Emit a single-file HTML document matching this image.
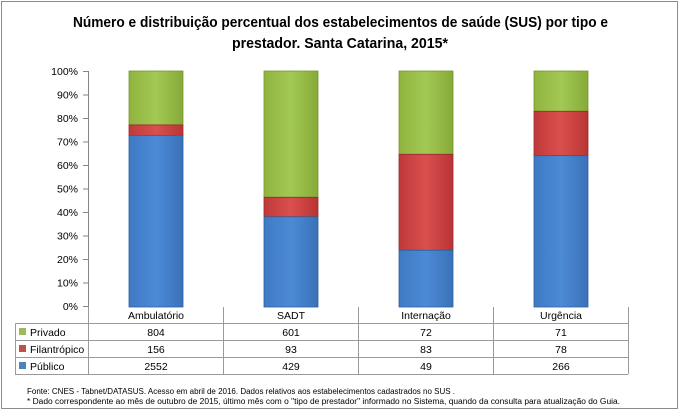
<!DOCTYPE html>
<html><head><meta charset="utf-8"><style>
body{margin:0;background:#fff;}
svg{display:block;font-family:"Liberation Sans",sans-serif;}
</style></head><body>
<svg width="680" height="412" viewBox="0 0 680 412">
<defs>
<linearGradient id="g" x1="0" x2="1"><stop offset="0" stop-color="#8fb43e"/><stop offset="0.5" stop-color="#a3c955"/><stop offset="1" stop-color="#86aa38"/></linearGradient>
<linearGradient id="r" x1="0" x2="1"><stop offset="0" stop-color="#c0393a"/><stop offset="0.5" stop-color="#d9504e"/><stop offset="1" stop-color="#b83433"/></linearGradient>
<linearGradient id="b" x1="0" x2="1"><stop offset="0" stop-color="#3f7ac4"/><stop offset="0.5" stop-color="#4c8ad6"/><stop offset="1" stop-color="#3a72b8"/></linearGradient>
</defs>
<rect x="1.5" y="1.5" width="676" height="407" fill="#fff" stroke="#8c8c8c"/>
<text x="73" y="27" font-size="14.5" font-weight="bold" textLength="535" lengthAdjust="spacingAndGlyphs">Número e distribuição percentual dos estabelecimentos de saúde (SUS) por tipo e</text>
<text x="232" y="48" font-size="14.5" font-weight="bold" textLength="216" lengthAdjust="spacingAndGlyphs">prestador. Santa Catarina, 2015*</text>
<g stroke="#868686" stroke-width="1">
<line x1="88.5" y1="71" x2="88.5" y2="307"/>
<line x1="83" y1="71.5" x2="88" y2="71.5"/><line x1="83" y1="95" x2="88" y2="95"/><line x1="83" y1="118.5" x2="88" y2="118.5"/><line x1="83" y1="142" x2="88" y2="142"/><line x1="83" y1="165.5" x2="88" y2="165.5"/><line x1="83" y1="189" x2="88" y2="189"/><line x1="83" y1="212.5" x2="88" y2="212.5"/><line x1="83" y1="236" x2="88" y2="236"/><line x1="83" y1="259.5" x2="88" y2="259.5"/><line x1="83" y1="283" x2="88" y2="283"/><line x1="83" y1="306.5" x2="88" y2="306.5"/>
</g>
<g font-size="10.5" text-anchor="end" fill="#000">
<text x="78" y="75">100%</text><text x="78" y="98.5">90%</text><text x="78" y="122">80%</text><text x="78" y="145.5">70%</text><text x="78" y="169">60%</text><text x="78" y="192.5">50%</text><text x="78" y="216">40%</text><text x="78" y="239.5">30%</text><text x="78" y="263">20%</text><text x="78" y="286.5">10%</text><text x="78" y="310">0%</text>
</g>
<g stroke-width="0.8">
<rect x="129" y="71" width="54" height="53.9" fill="url(#g)" stroke="#76962f"/>
<rect x="129" y="124.9" width="54" height="10.5" fill="url(#r)" stroke="#9a2a2a"/>
<rect x="129" y="135.4" width="54" height="171.6" fill="url(#b)" stroke="#2f5f9c"/>
<rect x="264" y="71" width="54" height="126.3" fill="url(#g)" stroke="#76962f"/>
<rect x="264" y="197.3" width="54" height="19.5" fill="url(#r)" stroke="#9a2a2a"/>
<rect x="264" y="216.8" width="54" height="90.2" fill="url(#b)" stroke="#2f5f9c"/>
<rect x="399" y="71" width="54" height="83.3" fill="url(#g)" stroke="#76962f"/>
<rect x="399" y="154.3" width="54" height="96" fill="url(#r)" stroke="#9a2a2a"/>
<rect x="399" y="250.3" width="54" height="56.7" fill="url(#b)" stroke="#2f5f9c"/>
<rect x="534" y="71" width="54" height="40.3" fill="url(#g)" stroke="#76962f"/>
<rect x="534" y="111.3" width="54" height="44.4" fill="url(#r)" stroke="#9a2a2a"/>
<rect x="534" y="155.7" width="54" height="151.3" fill="url(#b)" stroke="#2f5f9c"/>
</g>
<g stroke="#9a9a9a" stroke-width="1" fill="none">
<line x1="88.5" y1="307" x2="88.5" y2="374"/>
<line x1="223.5" y1="307" x2="223.5" y2="374"/>
<line x1="358.5" y1="307" x2="358.5" y2="374"/>
<line x1="493.5" y1="307" x2="493.5" y2="374"/>
<line x1="628.5" y1="307" x2="628.5" y2="374"/>
<line x1="88" y1="323.5" x2="628" y2="323.5"/>
<line x1="15.5" y1="323.5" x2="88" y2="323.5"/>
<line x1="15" y1="340.5" x2="628" y2="340.5"/>
<line x1="15" y1="357.5" x2="628" y2="357.5"/>
<line x1="15" y1="374.5" x2="628" y2="374.5"/>
<line x1="15.5" y1="323.5" x2="15.5" y2="374.5"/>
</g>
<g font-size="10.5" text-anchor="middle">
<text x="156" y="319">Ambulatório</text><text x="291" y="319">SADT</text><text x="426" y="319">Internação</text><text x="561" y="319">Urgência</text>
<text x="156" y="336">804</text><text x="291" y="336">601</text><text x="426" y="336">72</text><text x="561" y="336">71</text>
<text x="156" y="353">156</text><text x="291" y="353">93</text><text x="426" y="353">83</text><text x="561" y="353">78</text>
<text x="156" y="370">2552</text><text x="291" y="370">429</text><text x="426" y="370">49</text><text x="561" y="370">266</text>
</g>
<rect x="19" y="328" width="7" height="7" fill="#9bbb59"/>
<rect x="19" y="345" width="7" height="7" fill="#c0504d"/>
<rect x="19" y="362" width="7" height="7" fill="#4f81bd"/>
<g font-size="10.5"><text x="30" y="336">Privado</text><text x="30" y="353">Filantrópico</text><text x="30" y="370">Público</text></g>
<text x="27" y="394" font-size="8" textLength="428" lengthAdjust="spacingAndGlyphs">Fonte: CNES - Tabnet/DATASUS. Acesso em abril de 2016.  Dados relativos aos estabelecimentos cadastrados no SUS .</text>
<text x="27" y="404" font-size="8" textLength="593" lengthAdjust="spacingAndGlyphs">* Dado correspondente ao mês de  outubro de 2015, último mês com o "tipo de prestador" informado no Sistema, quando da consulta para atualização do Guia.</text>
</svg>
</body></html>
